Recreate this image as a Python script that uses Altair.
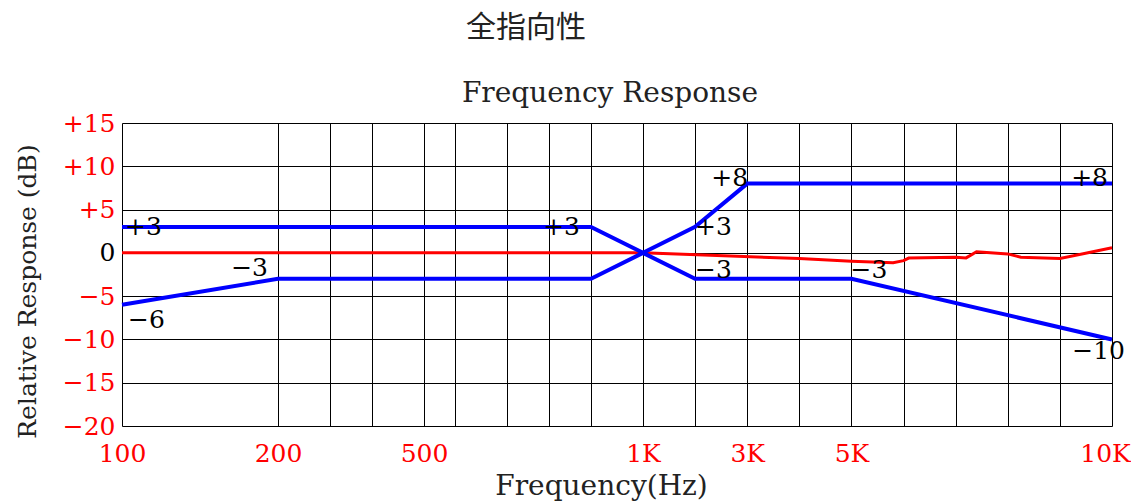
import altair as alt
import pandas as pd

# ---- data ----
grid_freq = [100, 200, 300, 400, 500, 600, 700, 800, 900, 1000,
             2000, 3000, 4000, 5000, 6000, 7000, 8000, 9000, 10000]
x_tick_labels = [100, 200, 500, 1000, 3000, 5000, 10000]
y_ticks = [-20, -15, -10, -5, 0, 5, 10, 15]

upper_freq = [100, 900, 1000, 2000, 3000, 10000]
upper_db = [3, 3, 0, 3, 8, 8]
lower_freq = [100, 200, 900, 1000, 2000, 5000, 10000]
lower_db = [-6, -3, -3, 0, -3, -3, -10]
resp_freq = [100, 1000, 4000, 5000, 5800, 6000, 6100, 7000, 7200, 7400, 8000, 8250, 9000, 10000]
resp_db = [0, 0, -0.66, -0.97, -1.15, -0.9, -0.6, -0.5, -0.58, 0.12, -0.12, -0.5, -0.66, 0.58]

label_text = ["+3", "−6", "−3", "+3", "+3", "−3", "+8", "−3", "+8", "−10"]
label_freq = [100, 100, 200, 900, 2000, 2000, 3000, 5000, 10000, 10000]
label_db = [3, -6, -3, 3, 3, -3, 8, -3, 8, -10]

titles = ["全指向性", "Frequency Response"]

# ---- styling ----
W, H = 990, 303
FONT = "DejaVu Serif"
CJK = "Noto Sans CJK SC"
# hand-drawn (non-uniform) frequency axis: piecewise linear scale
scale_domain = [100, 200, 300, 400, 500, 600, 700, 800, 900, 1000, 10000]
scale_range = [0, 156, 208, 250, 302, 333, 385, 427, 469, 521, 990]

lab_list = ",".join(str(v) for v in x_tick_labels)
x_label_expr = (f"indexof([{lab_list}], datum.value) < 0 ? '' : "
                "(datum.value >= 1000 ? (datum.value/1000) + 'K' : datum.value + '')")
y_label_expr = ("datum.value > 0 ? '+' + datum.value : "
                "(datum.value < 0 ? '−' + abs(datum.value) : '0')")

x_enc = alt.X(
    "f:Q",
    scale=alt.Scale(type="linear", domain=scale_domain, range=scale_range, nice=False, zero=False),
    axis=alt.Axis(values=grid_freq, labelExpr=x_label_expr, labelColor="red",
                  labelFont=FONT, labelFontSize=25, labelPadding=15, labelFlush=False,
                  labelOffset={"condition": {"test": "datum.value == 10000", "value": -7}, "value": 0},
                  labelOverlap=False, ticks=False, tickSize=0, domain=False,
                  grid=True, gridColor="black", gridOpacity=1, gridWidth=1,
                  title="Frequency(Hz)", titleFont=FONT, titleFontSize=28,
                  titleFontWeight="normal", titleColor="#222",
                  titleX=479, titleY=60, titleBaseline="middle", titleAlign="center"),
)
y_enc = alt.Y(
    "v:Q",
    scale=alt.Scale(domain=[-20, 15], nice=False, zero=False),
    axis=alt.Axis(values=y_ticks, labelExpr=y_label_expr,
                  labelColor={"condition": {"test": "datum.value == 0", "value": "black"}, "value": "red"},
                  labelFont=FONT, labelFontSize=25, labelPadding=7, labelBaseline="middle",
                  labelOverlap=False, labelFlush=False, ticks=False, tickSize=0, domain=False,
                  grid=True, gridColor="black", gridOpacity=1, gridWidth=1,
                  title="Relative Response (dB)", titleFont=FONT, titleFontSize=25,
                  titleFontWeight="normal", titleColor="#222", titleAngle=270,
                  titleX=-95, titleY=168, titleBaseline="middle", titleAlign="center"),
)

resp = alt.Chart(pd.DataFrame({"f": resp_freq, "v": resp_db})).mark_line(
    color="#ff0000", strokeWidth=3).encode(x=x_enc, y=y_enc)
upper = alt.Chart(pd.DataFrame({"f": upper_freq, "v": upper_db})).mark_line(
    color="#0000ff", strokeWidth=4).encode(x=x_enc, y=y_enc)
lower = alt.Chart(pd.DataFrame({"f": lower_freq, "v": lower_db})).mark_line(
    color="#0000ff", strokeWidth=4).encode(x=x_enc, y=y_enc)

# per-label placement offsets (style)
label_style = [
    ("left", 3, 0), ("left", 6, 15), ("right", -10, -11), ("right", -11, 0),
    ("left", 0, 0), ("left", 0, -9), ("right", 1, -6), ("left", -1, -9),
    ("right", -4, -6), ("right", 13, 12),
]
labels_df = pd.DataFrame({"f": label_freq, "v": label_db, "t": label_text})
label_layers = []
for i, (al, dx, dy) in enumerate(label_style):
    label_layers.append(
        alt.Chart(labels_df.iloc[[i]]).mark_text(
            align=al, baseline="middle", dx=dx, dy=dy, font=FONT, fontSize=25, color="black"
        ).encode(x=x_enc, y=y_enc, text="t:N")
    )

cn_title = alt.Chart(pd.DataFrame({"t": [titles[0]]})).mark_text(
    font=CJK, fontSize=30, color="#222", align="center", baseline="middle"
).encode(x=alt.value(404), y=alt.value(-95), text="t:N")
en_title = alt.Chart(pd.DataFrame({"t": [titles[1]]})).mark_text(
    font=FONT, fontSize=28, color="#222", align="center", baseline="middle"
).encode(x=alt.value(488), y=alt.value(-29), text="t:N")

chart = alt.layer(resp, upper, lower, *label_layers, cn_title, en_title).properties(
    width=W, height=H,
    autosize=alt.AutoSizeParams(type="none"),
    padding={"left": 114, "top": 115, "right": 19, "bottom": 76},
).configure_view(stroke="black", strokeWidth=1).configure(background="white")

chart.save("out.html", embed_options={"renderer": "svg", "actions": False})
